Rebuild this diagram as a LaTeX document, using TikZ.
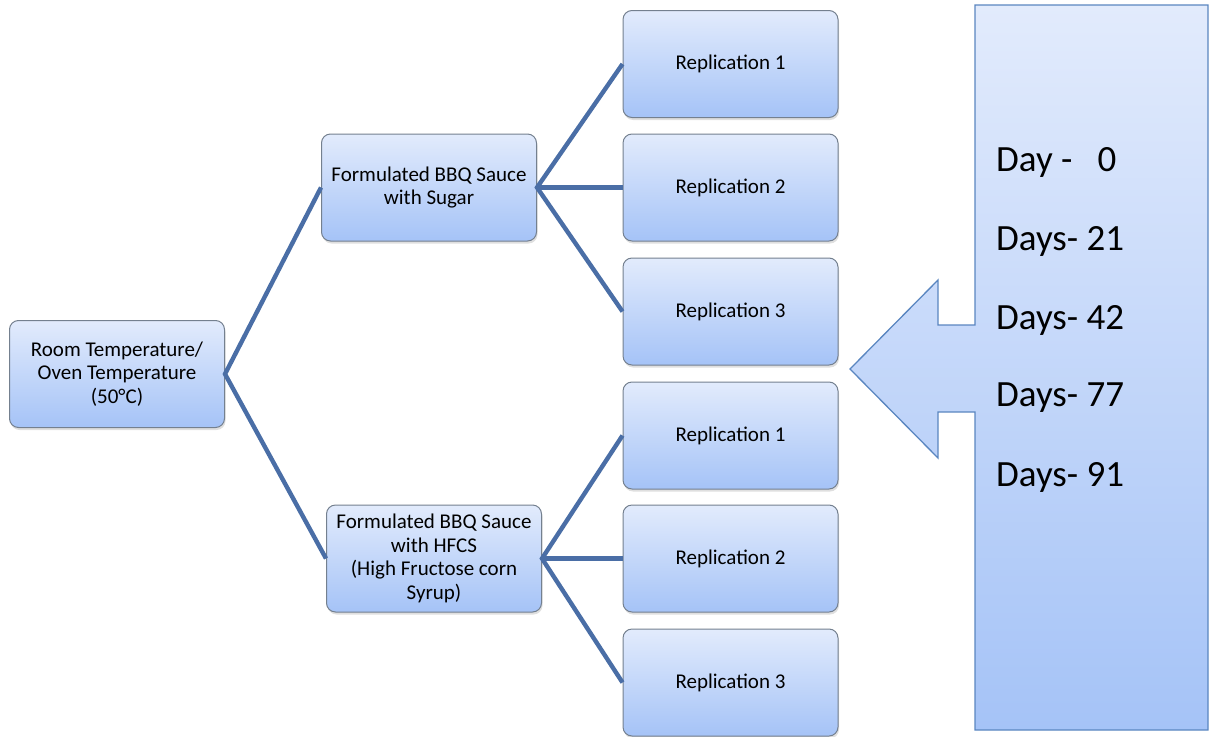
\documentclass[tikz,border=0pt]{standalone}
\usepackage{fontspec}
\setmainfont{Carlito}
\usetikzlibrary{shadows}
\definecolor{topblue}{HTML}{E2EBFC}
\definecolor{botblue}{HTML}{A5C3F7}
\definecolor{edgegray}{HTML}{74808F}
\definecolor{edgeblue}{HTML}{5A86C0}
\definecolor{linkblue}{HTML}{4A6EA6}
\tikzset{
  boxnode/.style={rounded corners=9pt, draw=edgegray, line width=1pt,
    top color=topblue, bottom color=botblue,
    minimum width=215pt, minimum height=107pt, align=center, inner sep=2pt,
    font=\fontsize{21}{23.5}\selectfont,
    drop shadow={shadow xshift=1pt, shadow yshift=-2.5pt, opacity=0.25}},
  link/.style={draw=linkblue, line width=4.4pt},
  daytext/.style={anchor=west, inner sep=0, font=\fontsize{37}{42}\selectfont}
}
\begin{document}
\begin{tikzpicture}[x=1pt,y=-1pt]
\useasboundingbox (0,0) rectangle (1212,736);
% callout
\path[draw=edgeblue, line width=1.3pt, top color=topblue, bottom color=botblue]
  (975,5) -- (1208,5) -- (1208,730) -- (975,730) -- (975,412) -- (938,412)
  -- (938,458) -- (850,369) -- (938,280) -- (938,325) -- (975,325) -- cycle;
\node[daytext] (d0) at (996,162) {Day -\ \ \ 0};
\node[daytext] (d21) at (996,241) {Days- 21};
\node[daytext] (d42) at (996,320) {Days- 42};
\node[daytext] (d77) at (996,398) {Days- 77};
\node[daytext] (d91) at (996,477) {Days- 91};
% nodes
\node[boxnode] (root) at (117,374) {Room Temperature/\\Oven Temperature\\(50°C)};
\node[boxnode] (sug) at (429,187.5) {Formulated BBQ Sauce\\with Sugar};
\node[boxnode] (hfcs) at (434,558.5) {Formulated BBQ Sauce\\with HFCS\\(High Fructose corn\\Syrup)};
\node[boxnode] (r1) at (730.5,64) {Replication 1};
\node[boxnode] (r2) at (730.5,187.5) {Replication 2};
\node[boxnode] (r3) at (730.5,311.5) {Replication 3};
\node[boxnode] (r4) at (730.5,435.5) {Replication 1};
\node[boxnode] (r5) at (730.5,558.5) {Replication 2};
\node[boxnode] (r6) at (730.5,682.5) {Replication 3};
% links
\draw[link] (sug.west) -- (root.east) -- (hfcs.west);
\draw[link] (r1.west) -- (sug.east) -- (r3.west);
\draw[link] (sug.east) -- (r2.west);
\draw[link] (r4.west) -- (hfcs.east) -- (r6.west);
\draw[link] (hfcs.east) -- (r5.west);
\end{tikzpicture}
\end{document}
